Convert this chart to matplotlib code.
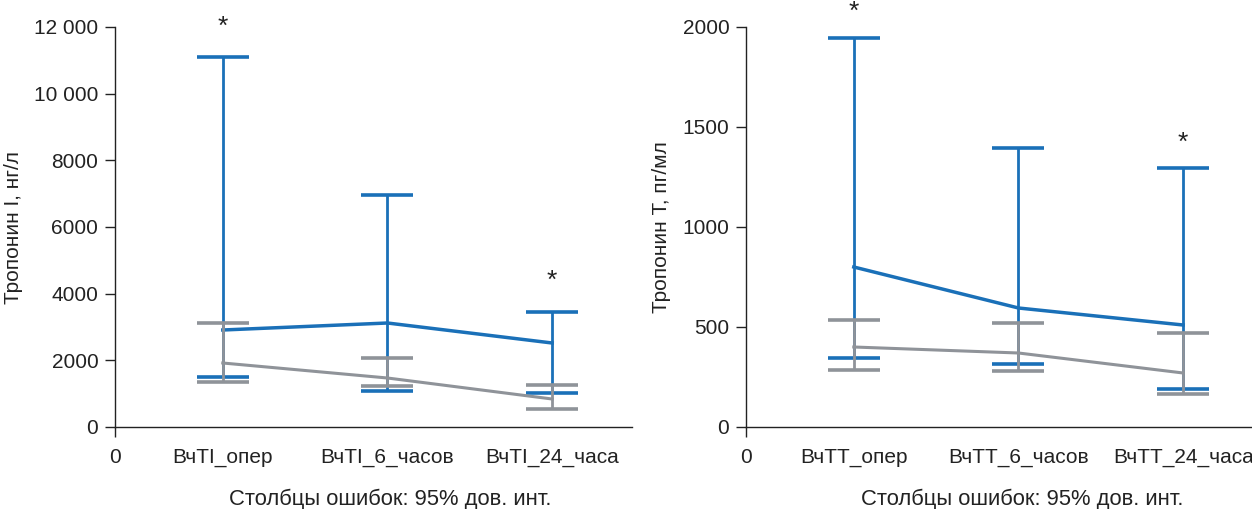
import matplotlib
matplotlib.use("Agg")
import matplotlib.pyplot as plt

plt.rcParams['font.family'] = ['Liberation Sans', 'DejaVu Sans']

# category labels for both panels
cats_I = ["ВчТI_опер", "ВчТI_6_часов", "ВчТI_24_часа"]
cats_T = ["ВчТТ_опер", "ВчТТ_6_часов", "ВчТТ_24_часа"]

# troponin I (нг/л) - blue group
blue_I = [2910, 3120, 2520]
blue_I_lo = [1500, 1080, 1020]
blue_I_hi = [11100, 6960, 3450]
# troponin I - gray group
gray_I = [1920, 1470, 840]
gray_I_lo = [1350, 1230, 540]
gray_I_hi = [3120, 2070, 1260]

# troponin T (пг/мл) - blue group
blue_T = [800, 595, 510]
blue_T_lo = [345, 315, 190]
blue_T_hi = [1945, 1395, 1295]
# troponin T - gray group
gray_T = [400, 370, 270]
gray_T_lo = [285, 280, 165]
gray_T_hi = [535, 520, 470]

# where the asterisks go (category index, y value)
stars_I = [(0, 12000), (2, 4380)]
stars_T = [(0, 2075), (2, 1420)]

BLUE = "#1a70b8"
GRAY = "#8f9399"
W, H = 1252, 509


def draw_panel(ax, cats, blue, blo, bhi, gray, glo, ghi, stars, ymax, yticks, ylabels, ylabel):
    x = [1, 2, 3]
    # blue series first, gray on top of it
    ax.plot(x, blue, color=BLUE, lw=2.5, zorder=2)
    ax.errorbar(x, blue, yerr=[[m - l for m, l in zip(blue, blo)], [h - m for m, h in zip(blue, bhi)]],
                fmt="none", ecolor=BLUE, elinewidth=2.0, capsize=19, capthick=2.6, zorder=3)
    ax.plot(x, gray, color=GRAY, lw=2.2, zorder=4)
    ax.errorbar(x, gray, yerr=[[m - l for m, l in zip(gray, glo)], [h - m for m, h in zip(gray, ghi)]],
                fmt="none", ecolor=GRAY, elinewidth=2.0, capsize=19, capthick=2.6, zorder=5)

    for i, yv in stars:
        ax.text(x[i], yv, "*", ha="center", va="center", fontsize=19, color="#222222", clip_on=False)

    x0 = 1 - 108 / 165.0
    ax.set_xlim(x0, 3 + 80 / 165.0)
    ax.set_ylim(0, ymax)
    ax.set_xticks([x0] + x)
    ax.set_xticklabels(["0"] + cats, fontsize=15)
    ax.set_yticks(yticks)
    ax.set_yticklabels(ylabels, fontsize=15)
    # only the origin gets a tick mark on x
    for t in ax.xaxis.get_major_ticks()[1:]:
        t.tick1line.set_visible(False)
    ax.tick_params(axis="x", length=7, width=1, pad=8, colors="#222222")
    ax.tick_params(axis="y", length=7, width=1, pad=5, colors="#222222")
    ax.set_ylabel(ylabel, fontsize=15, labelpad=8, color="#222222")
    ax.spines["top"].set_visible(False)
    ax.spines["right"].set_visible(False)
    for s in ("left", "bottom"):
        ax.spines[s].set_linewidth(1.0)
        ax.spines[s].set_color("#222222")


fig = plt.figure(figsize=(W / 100, H / 100), dpi=100)
bottom = (H - 427) / H
height = 400 / H
ax1 = fig.add_axes([115 / W, bottom, 517 / W, height])
ax2 = fig.add_axes([746 / W, bottom, 517 / W, height])

draw_panel(ax1, cats_I, blue_I, blue_I_lo, blue_I_hi, gray_I, gray_I_lo, gray_I_hi, stars_I,
           12000, [0, 2000, 4000, 6000, 8000, 10000, 12000],
           ["0", "2000", "4000", "6000", "8000", "10 000", "12 000"], "Тропонин I, нг/л")
draw_panel(ax2, cats_T, blue_T, blue_T_lo, blue_T_hi, gray_T, gray_T_lo, gray_T_hi, stars_T,
           2000, [0, 500, 1000, 1500, 2000],
           ["0", "500", "1000", "1500", "2000"], "Тропонин Т, пг/мл")

fig.text(390 / W, (H - 499) / H, "Столбцы ошибок: 95% дов. инт.", ha="center", va="center", fontsize=15.8, color="#222222")
fig.text(1022 / W, (H - 499) / H, "Столбцы ошибок: 95% дов. инт.", ha="center", va="center", fontsize=15.8, color="#222222")

fig.savefig("out.png", dpi=100)
